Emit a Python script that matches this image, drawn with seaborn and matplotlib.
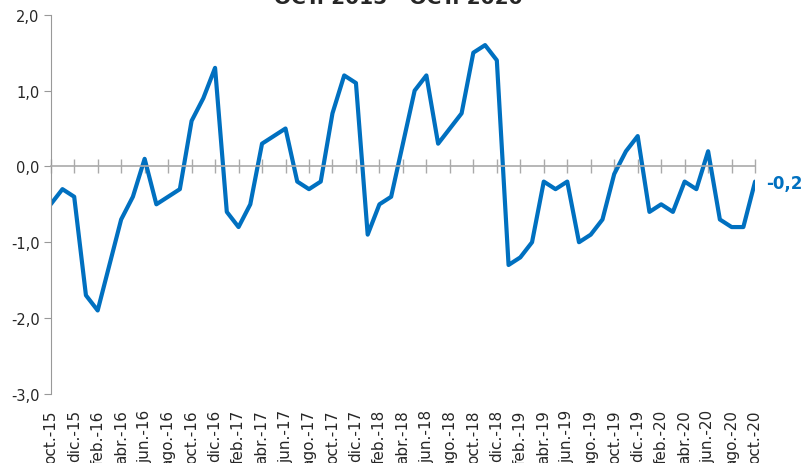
import matplotlib
matplotlib.use('Agg')
import matplotlib.pyplot as plt
import seaborn as sns
import pandas as pd

# monthly series, oct-15 .. oct-20
months = ["oct", "nov", "dic", "ene", "feb", "mar", "abr", "may", "jun", "jul", "ago", "sep"]
values = [
    -0.5, -0.3, -0.4,
    -1.7, -1.9, -1.3, -0.7, -0.4, 0.1, -0.5, -0.4, -0.3, 0.6, 0.9, 1.3,
    -0.6, -0.8, -0.5, 0.3, 0.4, 0.5, -0.2, -0.3, -0.2, 0.7, 1.2, 1.1,
    -0.9, -0.5, -0.4, 0.3, 1.0, 1.2, 0.3, 0.5, 0.7, 1.5, 1.6, 1.4,
    -1.3, -1.2, -1.0, -0.2, -0.3, -0.2, -1.0, -0.9, -0.7, -0.1, 0.2, 0.4,
    -0.6, -0.5, -0.6, -0.2, -0.3, 0.2, -0.7, -0.8, -0.8, -0.2,
]
yticks = [2, 1, 0, -1, -2, -3]
title = "OCT. 2015 - OCT. 2020"
blue = "#0070C0"

# month labels like "oct.-15"
labels = []
for i in range(len(values)):
    yr = 15 + (9 + i) // 12
    labels.append(f"{months[i % 12]}.-{yr}")

df = pd.DataFrame({"idx": range(len(values)), "val": values})

sns.set_style("white")
plt.rcParams['font.family'] = ['DejaVu Sans']
fig = plt.figure(figsize=(8.05, 4.64), dpi=100)
ax = fig.add_axes([0.063, 0.149, 0.875, 0.817])

sns.lineplot(data=df, x="idx", y="val", color=blue, linewidth=3, ax=ax)

ax.set_xlim(0, len(values) - 1)
ax.set_ylim(-3, 2)
ax.set_yticks(yticks)
ax.set_yticklabels([f"{v:.1f}".replace(".", ",") for v in yticks], fontsize=10.5)
ax.set_xlabel("")
ax.set_ylabel("")

for s in ["top", "right"]:
    ax.spines[s].set_visible(False)
ax.spines["left"].set_color("#999999")
ax.spines["bottom"].set_position(("data", 0))
ax.spines["bottom"].set_color("#aaaaaa")
ax.spines["bottom"].set_linewidth(1.2)

# tick marks sit on the zero line, labels go to the bottom
tick_pos = list(range(0, len(values), 2))
ax.set_xticks(tick_pos)
ax.tick_params(axis="x", bottom=True, direction="inout", length=10, width=1,
               color="#aaaaaa", labelbottom=False)
ax.tick_params(axis="y", left=True, direction="out", length=5, color="#999999", pad=3)

sec = ax.secondary_xaxis("bottom")
sec.set_xticks(tick_pos)
sec.set_xticklabels([labels[i] for i in tick_pos], rotation=90, fontsize=11)
sec.tick_params(length=0, pad=11)
sec.spines["bottom"].set_visible(False)

ax.annotate(f"{values[-1]:.1f}".replace(".", ","), xy=(len(values) - 1, values[-1]),
            xytext=(8, -1), textcoords="offset points", color=blue,
            fontsize=12, fontweight="bold", va="center", ha="left", annotation_clip=False)

fig.text(0.495, 0.991, title, ha="center", va="baseline", fontsize=14.5, fontweight="bold")

fig.savefig("out.png", dpi=100)
